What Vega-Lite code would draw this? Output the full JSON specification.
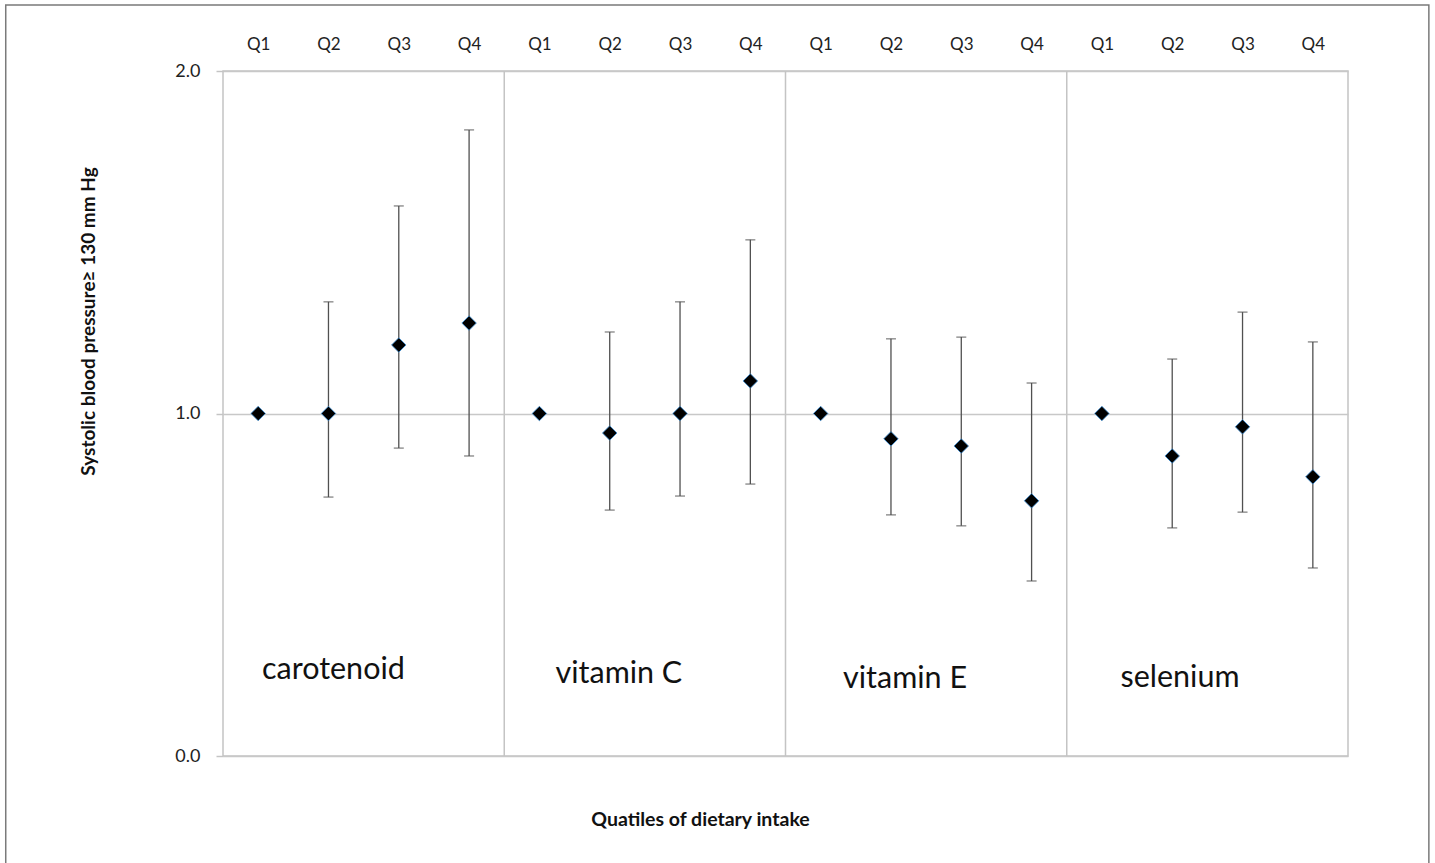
{
  "$schema": "https://vega.github.io/schema/vega-lite/v6.json",
  "autosize": {"type": "none"},
  "width": 1125,
  "height": 685,
  "padding": {"left": 223, "top": 71, "right": 87, "bottom": 107},
  "background": "white",
  "config": {
    "view": {"stroke": "#c4c4c4", "strokeWidth": 1.5},
    "font": "Lato"
  },
  "title": {
    "text": "Quatiles of dietary intake",
    "orient": "bottom",
    "frame": "group",
    "anchor": "middle",
    "dx": -85,
    "offset": -50,
    "baseline": "middle",
    "fontSize": 19.5,
    "fontWeight": "bold",
    "font": "Lato",
    "color": "#111111"
  },
  "datasets": {
    "points": [
      {"group": "carotenoid", "quartile": "Q1", "idx": 0, "or": 1.0, "lo": null, "hi": null},
      {"group": "carotenoid", "quartile": "Q2", "idx": 1, "or": 1.0, "lo": 0.756, "hi": 1.326},
      {"group": "carotenoid", "quartile": "Q3", "idx": 2, "or": 1.2, "lo": 0.899, "hi": 1.606},
      {"group": "carotenoid", "quartile": "Q4", "idx": 3, "or": 1.264, "lo": 0.876, "hi": 1.828},
      {"group": "vitamin C", "quartile": "Q1", "idx": 4, "or": 1.0, "lo": null, "hi": null},
      {"group": "vitamin C", "quartile": "Q2", "idx": 5, "or": 0.943, "lo": 0.718, "hi": 1.238},
      {"group": "vitamin C", "quartile": "Q3", "idx": 6, "or": 1.0, "lo": 0.759, "hi": 1.326},
      {"group": "vitamin C", "quartile": "Q4", "idx": 7, "or": 1.095, "lo": 0.794, "hi": 1.507},
      {"group": "vitamin E", "quartile": "Q1", "idx": 8, "or": 1.0, "lo": null, "hi": null},
      {"group": "vitamin E", "quartile": "Q2", "idx": 9, "or": 0.926, "lo": 0.704, "hi": 1.218},
      {"group": "vitamin E", "quartile": "Q3", "idx": 10, "or": 0.905, "lo": 0.672, "hi": 1.223},
      {"group": "vitamin E", "quartile": "Q4", "idx": 11, "or": 0.745, "lo": 0.511, "hi": 1.089},
      {"group": "selenium", "quartile": "Q1", "idx": 12, "or": 1.0, "lo": null, "hi": null},
      {"group": "selenium", "quartile": "Q2", "idx": 13, "or": 0.876, "lo": 0.666, "hi": 1.159},
      {"group": "selenium", "quartile": "Q3", "idx": 14, "or": 0.961, "lo": 0.712, "hi": 1.296},
      {"group": "selenium", "quartile": "Q4", "idx": 15, "or": 0.815, "lo": 0.549, "hi": 1.209}
    ],
    "separators": [{"pos": 3.5}, {"pos": 7.5}, {"pos": 11.5}],
    "labels": [
      {"group": "carotenoid", "pos": 1.07, "val": 0.25},
      {"group": "vitamin C", "pos": 5.13, "val": 0.24},
      {"group": "vitamin E", "pos": 9.2, "val": 0.225},
      {"group": "selenium", "pos": 13.11, "val": 0.228}
    ],
    "frame": [{"x1": -3.59, "x2": 16.65, "y1": -0.33, "y2": 2.193}]
  },
  "encoding": {
    "x": {
      "type": "quantitative",
      "scale": {"domain": [-0.5, 15.5], "nice": false, "zero": false},
      "axis": {
        "orient": "top",
        "values": [0,1,2,3,4,5,6,7,8,9,10,11,12,13,14,15],
        "labelExpr": "'Q' + (datum.value % 4 + 1)",
        "grid": false,
        "ticks": false,
        "domain": false,
        "labelPadding": 18,
        "labelFontSize": 17,
        "labelFontWeight": "normal",
        "labelColor": "#222222",
        "labelFont": "Lato",
        "title": null
      }
    },
    "y": {
      "type": "quantitative",
      "scale": {"domain": [0, 2], "nice": false},
      "axis": {
        "values": [0, 1, 2],
        "format": ".1f",
        "grid": true,
        "gridColor": "#c8c8c8",
        "gridWidth": 1.5,
        "domain": false,
        "tickColor": "#c4c4c4",
        "tickSize": 7,
        "tickWidth": 1.5,
        "labelPadding": 16,
        "labelFontSize": 18,
        "labelFontWeight": "normal",
        "labelColor": "#222222",
        "labelFont": "Lato",
        "title": "Systolic blood pressure≥ 130 mm Hg",
        "titleFont": "Lato",
        "titleFontSize": 19,
        "titleFontWeight": "bold",
        "titleColor": "#111111",
        "titleAngle": 270,
        "titleX": -135,
        "titleY": 250,
        "titleAlign": "center",
        "titleBaseline": "middle"
      }
    }
  },
  "layer": [
    {
      "data": {"name": "frame"},
      "mark": {"type": "rect", "fill": null, "stroke": "#7a7a7a", "strokeWidth": 1.5, "clip": false},
      "encoding": {
        "x": {"field": "x1"},
        "x2": {"field": "x2"},
        "y": {"field": "y1"},
        "y2": {"field": "y2"}
      }
    },
    {
      "data": {"name": "separators"},
      "mark": {"type": "rule", "color": "#c4c4c4", "strokeWidth": 1.5},
      "encoding": {"x": {"field": "pos"}}
    },
    {
      "data": {"name": "points"},
      "transform": [{"filter": "datum.lo != null"}],
      "mark": {"type": "rule", "color": "#505050", "strokeWidth": 1.3},
      "encoding": {"x": {"field": "idx"}, "y": {"field": "lo"}, "y2": {"field": "hi"}}
    },
    {
      "data": {"name": "points"},
      "transform": [{"filter": "datum.lo != null"}],
      "mark": {"type": "tick", "orient": "horizontal", "color": "#505050", "size": 10, "thickness": 1.3},
      "encoding": {"x": {"field": "idx"}, "y": {"field": "lo"}}
    },
    {
      "data": {"name": "points"},
      "transform": [{"filter": "datum.hi != null"}],
      "mark": {"type": "tick", "orient": "horizontal", "color": "#505050", "size": 10, "thickness": 1.3},
      "encoding": {"x": {"field": "idx"}, "y": {"field": "hi"}}
    },
    {
      "data": {"name": "points"},
      "mark": {"type": "point", "shape": "diamond", "filled": true, "fill": "#000000", "stroke": "#3d8fd6", "strokeWidth": 0.8, "size": 210, "opacity": 1},
      "encoding": {"x": {"field": "idx"}, "y": {"field": "or"}}
    },
    {
      "data": {"name": "labels"},
      "mark": {"type": "text", "fontSize": 30.5, "font": "Lato", "color": "#111111", "align": "center", "baseline": "middle"},
      "encoding": {"x": {"field": "pos"}, "y": {"field": "val"}, "text": {"field": "group"}}
    }
  ]
}
